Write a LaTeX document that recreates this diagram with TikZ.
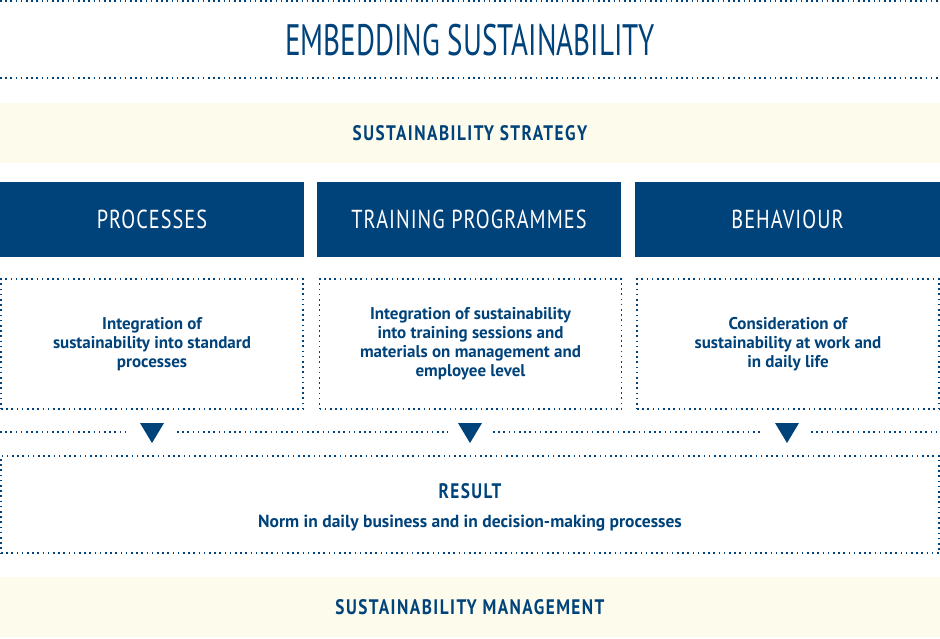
\documentclass[tikz,border=0pt]{standalone}
\usepackage{fontspec}
\usepackage{xcolor}
\usepackage{tikz}
\usetikzlibrary{positioning}
\setmainfont{PT Sans}
\newfontfamily\condfont[FakeStretch=0.66]{PT Sans}
\newfontfamily\headfont[FakeStretch=0.78,LetterSpace=4]{PT Sans}
\newfontfamily\bandfont[FakeStretch=0.82,LetterSpace=7]{PT Sans}
\definecolor{esblue}{HTML}{00427A}
\definecolor{escream}{HTML}{FDFBEC}
\tikzset{
  dots/.style={draw=esblue,line width=1.7pt,dash pattern=on 1.6pt off 3.6pt},
  band/.style={fill=escream,minimum width=940pt,minimum height=60pt,inner sep=0pt,text=esblue,font=\bandfont\bfseries\fontsize{21}{24}\selectfont},
  head/.style={fill=esblue,minimum height=75pt,inner sep=0pt,text=white,font=\headfont\fontsize{26}{30}\selectfont},
  field/.style={dots,minimum width=302pt,minimum height=130pt,inner sep=0pt,align=center,text=esblue,font=\bfseries\fontsize{17}{19}\selectfont},
}
\begin{document}
\begin{tikzpicture}[x=1pt,y=-1pt]
		\useasboundingbox (0,0) rectangle (940,638);
		\draw[dots] (0,1) -- (940,1);
		\node[text=esblue,font=\condfont\fontsize{44}{48}\selectfont] (title) at (470,40) {EMBEDDING SUSTAINABILITY};
		\draw[dots] (0,78) -- (940,78);
		\node[band] (strategy) at (470,133) {SUSTAINABILITY STRATEGY};
		\node[head,minimum width=304pt] (proc) at (152,219.5) {PROCESSES};
		\node[head,minimum width=304pt] (train) at (469,219.5) {TRAINING PROGRAMMES};
		\node[head,minimum width=305pt] (behav) at (787.5,219.5) {BEHAVIOUR};
		\node[field] (procbox) at (152,344) {Integration of\\sustainability into standard\\processes};
		\node[field] (trainbox) at (470.5,344) {Integration of sustainability\\into training sessions and\\materials on management and\\employee level};
		\node[field] (behavbox) at (788,344) {Consideration of\\sustainability at work and\\in daily life};
		\draw[dots] (0,432) -- (130,432);
		\draw[dots] (177,432) -- (448,432);
		\draw[dots] (493,432) -- (761,432);
		\draw[dots] (811,432) -- (940,432);
		\foreach \x in {152,470,787}
			\fill[esblue] (\x-12,423) -- (\x+12,423) -- (\x,443) -- cycle;
		\node[dots,minimum width=938pt,minimum height=97pt,inner sep=0pt] (result) at (470,504.5) {};
		\node[text=esblue,font=\bandfont\bfseries\fontsize{21}{24}\selectfont] (resulthead) at (470,491) {RESULT};
		\node[text=esblue,font=\bfseries\fontsize{17.5}{20}\selectfont] (resulttext) at (470,523) {Norm in daily business and in decision-making processes};
		\node[band] (management) at (470,607) {SUSTAINABILITY MANAGEMENT};
		\end{tikzpicture}
\end{document}
